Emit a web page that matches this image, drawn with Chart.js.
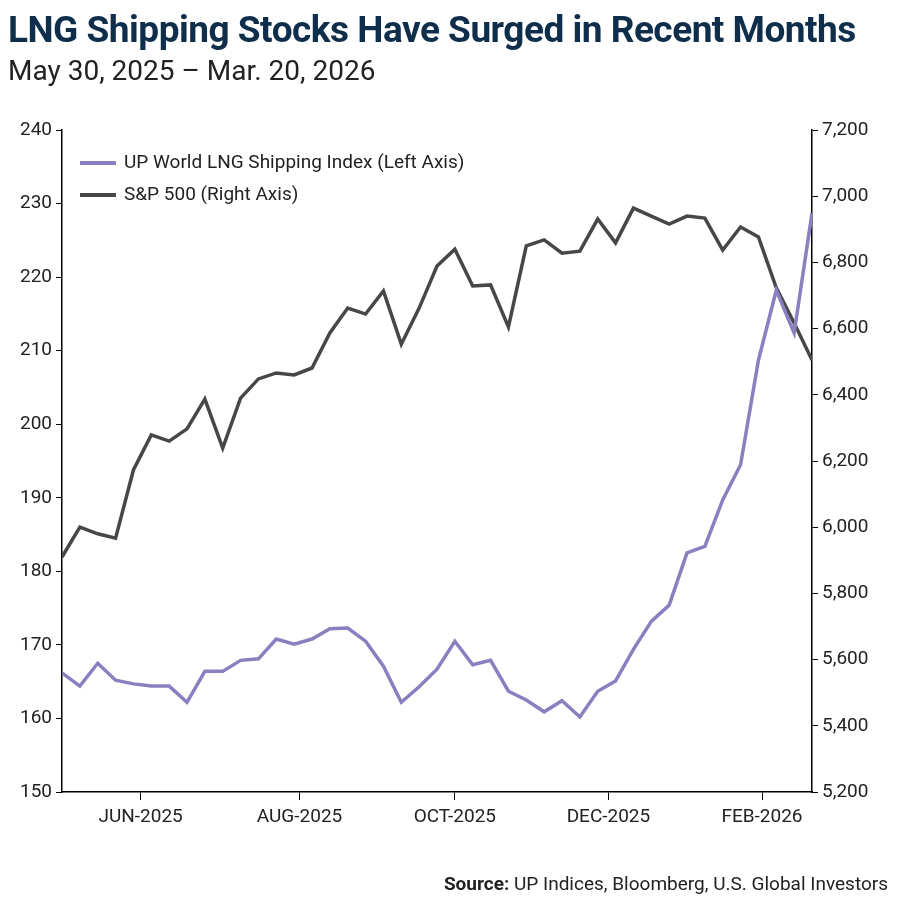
<!DOCTYPE html>
<html><head><meta charset="utf-8">
<script src="https://cdn.jsdelivr.net/npm/chart.js@4/dist/chart.umd.min.js"></script>
<style>
body{margin:0;width:900px;height:900px;background:#fff;position:relative;font-family:"Liberation Sans Narrow","Roboto",sans-serif;overflow:hidden}
#t{position:absolute;left:8px;top:8px;font-size:37px;font-weight:bold;color:#0f2e4c;letter-spacing:-0.5px}
#s{position:absolute;left:8px;top:54px;font-size:28px;color:#222}
#lg{position:absolute;left:80px;top:146px;font-size:19px;color:#222;line-height:32px}
#lg span{display:inline-block;width:36px;height:4px;vertical-align:middle;margin-right:8px}
#src{position:absolute;right:12px;top:872px;font-size:19px;color:#222}
canvas{position:absolute;left:0;top:0}
</style></head><body>
<canvas id="c" width="900" height="900"></canvas>
<div id="t">LNG Shipping Stocks Have Surged in Recent Months</div>
<div id="s">May 30, 2025 – Mar. 20, 2026</div>
<div id="lg"><div><span style="background:#8b7fc0"></span>UP World LNG Shipping Index (Left Axis)</div><div><span style="background:#474747"></span>S&amp;P 500 (Right Axis)</div></div>
<div id="src"><b>Source:</b> UP Indices, Bloomberg, U.S. Global Investors</div>
<script>
const lngValues=[166.2,164.4,167.5,165.2,164.7,164.4,164.4,162.2,166.4,166.4,167.9,168.1,170.8,170.1,170.8,172.2,172.3,170.5,167.1,162.2,164.3,166.7,170.5,167.3,167.9,163.7,162.5,160.9,162.4,160.2,163.7,165.1,169.4,173.2,175.4,182.5,183.4,189.7,194.5,208.7,218.2,212.4,228.7];
const spxValues=[5910,6000,5980,5967,6173,6279,6260,6297,6387,6239,6390,6448,6466,6460,6481,6587,6662,6644,6714,6553,6662,6789,6840,6729,6732,6605,6850,6868,6828,6834,6931,6859,6964,6940,6916,6940,6934,6837,6907,6877,6723,6617,6505];
const monthLabels=["JUN-2025","AUG-2025","OCT-2025","DEC-2025","FEB-2026"];
const monthTickPos=[4.4,13.3,22.0,30.6,39.2];
const pts=a=>a.map((v,i)=>({x:i,y:v}));
const font={family:"'Liberation Sans Narrow','Roboto',sans-serif",size:19};
new Chart(document.getElementById('c'),{type:'line',
data:{datasets:[
{data:pts(lngValues),yAxisID:'yL',borderColor:'#8b7fc0',borderWidth:3.5,pointRadius:0,tension:0},
{data:pts(spxValues),yAxisID:'yR',borderColor:'#474747',borderWidth:3.5,pointRadius:0,tension:0}]},
options:{responsive:false,animation:false,layout:{padding:{top:130,left:0,right:0,bottom:0}},
plugins:{legend:{display:false},tooltip:{enabled:false}},
scales:{
x:{type:'linear',min:0,max:42,afterFit:s=>{s.height=108},
afterBuildTicks:s=>{s.ticks=monthTickPos.map(v=>({value:v}))},
ticks:{autoSkip:false,maxRotation:0,color:'#222',font,padding:6,callback:(v,i)=>monthLabels[i]},
grid:{drawOnChartArea:false,tickLength:8,color:'#000'},border:{color:'#000',width:1.5}},
yL:{position:'left',min:150,max:240,afterFit:s=>{s.width=62},
ticks:{stepSize:10,color:'#222',font,padding:4},
grid:{drawOnChartArea:false,tickLength:6,color:'#000'},border:{color:'#000',width:1.5}},
yR:{position:'right',min:5200,max:7200,afterFit:s=>{s.width=88},
ticks:{stepSize:200,color:'#222',font,padding:4,callback:v=>v.toLocaleString('en-US')},
grid:{drawOnChartArea:false,tickLength:6,color:'#000'},border:{color:'#000',width:1.5}}
}}});
</script></body></html>
